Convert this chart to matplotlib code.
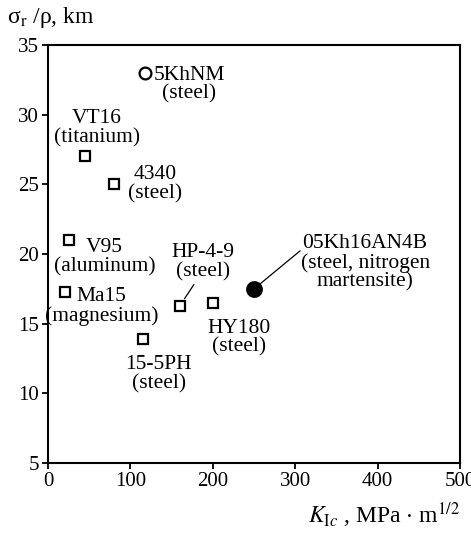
import matplotlib
matplotlib.use("Agg")
import matplotlib.pyplot as plt

plt.rcParams['font.family'] = ['Liberation Serif', 'DejaVu Serif']
plt.rcParams['mathtext.fontset'] = 'stix'

# data
names = ["5KhNM\n(steel)", "VT16\n(titanium)", "4340\n(steel)", "V95\n(aluminum)",
         "Ma15\n(magnesium)", "15-5PH\n(steel)", "HP-4-9\n(steel)", "HY180\n(steel)",
         "05Kh16AN4B\n(steel, nitrogen\nmartensite)"]
k1c = [118, 45, 80, 25, 20, 115, 160, 200, 250]
strength = [33.0, 27.0, 25.0, 21.0, 17.3, 13.9, 16.3, 16.5, 17.5]
markers = ["o", "s", "s", "s", "s", "s", "s", "s", "o"]
filled = [False, False, False, False, False, False, False, False, True]
x_ticks = [0, 100, 200, 300, 400, 500]
y_ticks = [5, 10, 15, 20, 25, 30, 35]

# label offsets in pixels (layout only)
offsets = [(44, -12), (12, 28), (41, 0), (36, -17), (37, -15), (16, -35),
           (23, 43), (26, -35), (111, 26)]
leaders = {6: (14, 21), 8: (46, 38)}

fig = plt.figure(figsize=(4.71, 5.33), dpi=100)
ax = fig.add_axes([0.102, 0.1313, 0.875, 0.7843])

for i in range(len(k1c)):
    ms = 10.5 if (markers[i] == "o" and filled[i]) else (8.5 if markers[i] == "o" else 7.5)
    ax.plot([k1c[i]], [strength[i]], marker=markers[i], ms=ms, mew=1.6,
            mfc='black' if filled[i] else 'white', mec='black', ls='none', zorder=3)
    ax.annotate(names[i], xy=(k1c[i], strength[i]), xytext=offsets[i],
                textcoords='offset pixels', ha='center', va='center',
                fontsize=15.5, linespacing=1.0)
    if i in leaders:
        ax.annotate("", xy=(k1c[i], strength[i]), xytext=leaders[i],
                    textcoords='offset pixels',
                    arrowprops=dict(arrowstyle='-', lw=0.9, color='black',
                                    shrinkA=0, shrinkB=6))

ax.set_xlim(0, 500)
ax.set_ylim(5, 35)
ax.set_xticks(x_ticks)
ax.set_yticks(y_ticks)
ax.tick_params(direction='out', length=4.5, width=1.3, labelsize=15, pad=2)
for s in ax.spines.values():
    s.set_linewidth(1.5)

fig.text(7 / 471, 1 - 17 / 533, 'σ$_{\\rm r}$ /ρ, km', fontsize=17,
         ha='left', va='center')
fig.text(460 / 471, 1 - 515 / 533, r'$K_{{\rm I}c}$ , MPa $\cdot$ m$^{1/2}$',
         fontsize=17, ha='right', va='center')

fig.savefig("out.png", dpi=100)
